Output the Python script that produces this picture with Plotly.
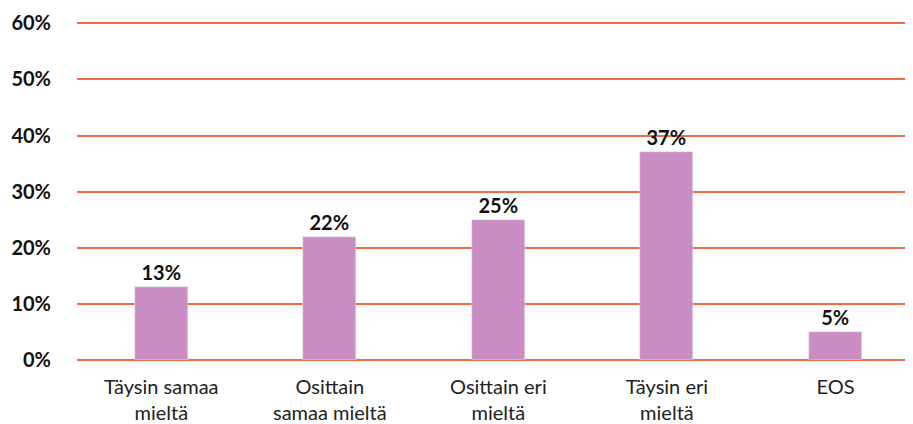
import plotly.graph_objects as go

categories = ["Täysin samaa<br>mieltä", "Osittain<br>samaa mieltä", "Osittain eri<br>mieltä",
              "Täysin eri<br>mieltä", "EOS"]
values = [13, 22, 25, 37, 5]
y_ticks = [0, 10, 20, 30, 40, 50, 60]
y_tick_labels = [f"{v}%" for v in y_ticks]

grid_color = "#F26B3F"
bar_color = "#C98DC4"

fig = go.Figure()
fig.add_trace(go.Bar(
    x=categories, y=values, marker_color=bar_color, width=0.315,
    text=[f"{v}%" for v in values], textposition="outside", cliponaxis=False,
    textfont=dict(family="Lato", size=20, color="#111111", weight="bold"),
))

# page body has an 8px margin, so the plot is shifted up/left by 8px here
fig.update_layout(
    width=913, height=424,
    margin=dict(l=69, r=8, t=13, b=72),
    plot_bgcolor="white", paper_bgcolor="white",
    showlegend=False, bargap=0,
    font=dict(family="Lato", color="#111111"),
)
fig.update_xaxes(
    range=[-0.5, 4.46], showgrid=False, showline=False, ticks="", automargin=False,
    ticklabelstandoff=13,
    tickfont=dict(family="Lato", size=20, color="#222222"),
)
fig.update_yaxes(
    range=[0, 60.4], tickvals=y_ticks, ticktext=y_tick_labels, automargin=False,
    showgrid=True, gridcolor=grid_color, gridwidth=1.5,
    zeroline=True, zerolinecolor=grid_color, zerolinewidth=1.5,
    showline=False, ticks="", ticklabelstandoff=25,
    tickfont=dict(family="Lato", size=20, color="#111111", weight="bold"),
)

fig.write_html("out.html")
